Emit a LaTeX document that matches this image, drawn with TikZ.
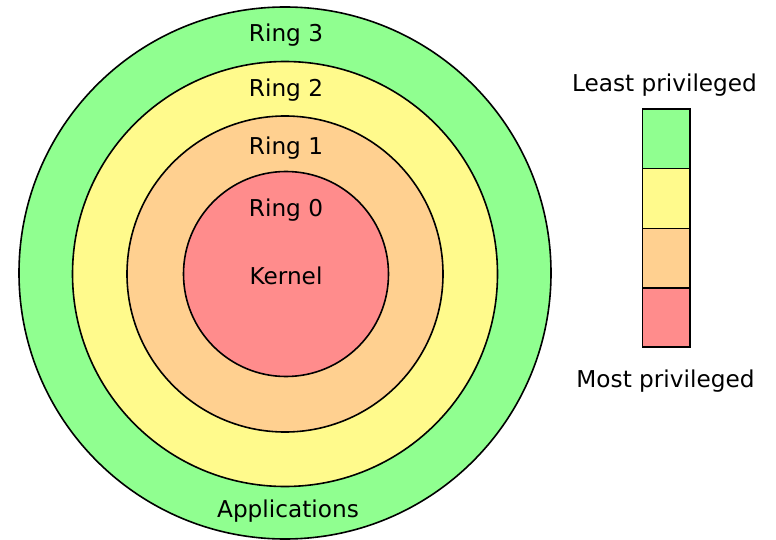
\documentclass[tikz,border=0pt]{standalone}
\usepackage{fontspec}
\setmainfont{DejaVu Sans}
\definecolor{rgreen}{RGB}{144,255,144}
\definecolor{ryellow}{RGB}{255,250,140}
\definecolor{rorange}{RGB}{255,208,144}
\definecolor{rred}{RGB}{255,140,140}
\begin{document}
\begin{tikzpicture}[x=1pt,y=-1pt,
  ring/.style={draw=black,line width=1.6pt},
  lbl/.style={anchor=base,inner sep=0pt,font=\fontsize{23.2}{26}\selectfont},
  cell/.style={draw=black,line width=1.6pt}]
\useasboundingbox (0,0) rectangle (776,540);
% rings
\filldraw[ring,fill=rgreen] (285,273) circle (266);
\filldraw[ring,fill=ryellow] (285,274) circle (212.5);
\filldraw[ring,fill=rorange] (285,274) circle (158);
\filldraw[ring,fill=rred] (286,274) circle (102.5);
% labels
\node[lbl] (r3) at (286,42) {Ring 3};
\node[lbl] (r2) at (286,97) {Ring 2};
\node[lbl] (r1) at (286,155) {Ring 1};
\node[lbl] (r0) at (286,216) {Ring 0};
\node[lbl] (k) at (286,284) {Kernel};
\node[lbl] (app) at (288,517) {Applications};
% legend
\filldraw[cell,fill=rgreen] (642.5,109) rectangle (690,168.5);
\filldraw[cell,fill=ryellow] (642.5,168.5) rectangle (690,228.3);
\filldraw[cell,fill=rorange] (642.5,228.3) rectangle (690,288);
\filldraw[cell,fill=rred] (642.5,288) rectangle (690,347);
\node[lbl] (least) at (664.5,91.5) {Least privileged};
\node[lbl] (most) at (665.5,387) {Most privileged};
\end{tikzpicture}
\end{document}
